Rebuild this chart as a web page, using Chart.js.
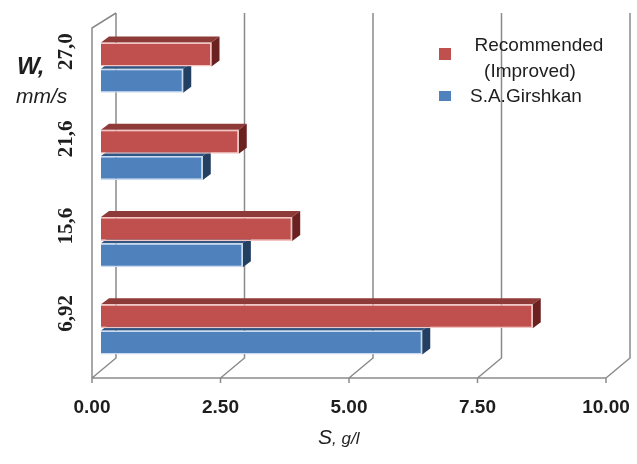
<!DOCTYPE html>
<html>
<head>
<meta charset="utf-8">
<script src="https://cdn.jsdelivr.net/npm/chart.js"></script>
<style>
  html, body { margin: 0; padding: 0; background: #fff; }
  #wrap { width: 637px; height: 464px; }
</style>
</head>
<body>
<div id="wrap"><canvas id="c" width="637" height="464"></canvas></div>
<script>
// W, mm/s categories (bottom to top) and S, g/l values
const categories = ['6,92', '15,6', '21,6', '27,0']
const recommended = [8.40, 3.72, 2.68, 2.15]
const girshkan = [6.25, 2.76, 1.98, 1.60]
const xTicks = [0, 2.5, 5, 7.5, 10]
const seriesNames = [['Recommended', '(Improved)'], ['S.A.Girshkan']]

const colors = {
  red: '#c0504d', redTop: '#8e3a38', redSide: '#6b2120', redEdge: '#f4c4c2',
  blue: '#4f81bd', blueTop: '#2f5684', blueSide: '#233f62', blueEdge: '#c9dbf0',
  grid: '#8a8a8a', text: '#1e1e1e'
}

// depth of the 3d box and of the bars
const FRONT = -9, BACK = 15, LIFT = 20
const BAR_DX = 8, BAR_DY = -6

const box3d = {
  id: 'box3d',
  beforeDatasetsDraw(chart) {
    const { ctx, chartArea: a, scales: { x } } = chart
    const yFront = a.bottom + 5, yBack = yFront - LIFT, yTop = a.top - 11
    ctx.save()
    ctx.strokeStyle = colors.grid
    ctx.lineWidth = 1.5
    ctx.beginPath()
    xTicks.forEach(v => {
      const p = x.getPixelForValue(v)
      ctx.moveTo(p + BACK, yTop); ctx.lineTo(p + BACK, yBack)
      ctx.lineTo(p + FRONT, yFront); ctx.lineTo(p + FRONT, yFront + 5)
    })
    const p0 = x.getPixelForValue(0), p1 = x.getPixelForValue(10)
    ctx.moveTo(p0 + FRONT, yFront); ctx.lineTo(p1 + FRONT, yFront)
    // side wall
    ctx.moveTo(p0 + FRONT, yFront); ctx.lineTo(p0 + FRONT, yTop + 15)
    ctx.lineTo(p0 + BACK, yTop)
    ctx.stroke()

    // bar depth faces, blue first so red front sits over it
    ;[1, 0].forEach(di => {
      const meta = chart.getDatasetMeta(di)
      const top = di === 0 ? colors.redTop : colors.blueTop
      const side = di === 0 ? colors.redSide : colors.blueSide
      meta.data.forEach(bar => {
        const { x: r, y, base: l, height: h } = bar.getProps(['x', 'y', 'base', 'height'], true)
        const t = y - h / 2, b = y + h / 2
        ctx.fillStyle = top
        ctx.beginPath()
        ctx.moveTo(l, t); ctx.lineTo(l + BAR_DX, t + BAR_DY)
        ctx.lineTo(r + BAR_DX, t + BAR_DY); ctx.lineTo(r, t)
        ctx.closePath(); ctx.fill()
        ctx.fillStyle = side
        ctx.beginPath()
        ctx.moveTo(r, t); ctx.lineTo(r + BAR_DX, t + BAR_DY)
        ctx.lineTo(r + BAR_DX, b + BAR_DY); ctx.lineTo(r, b)
        ctx.closePath(); ctx.fill()
      })
    })
    ctx.restore()
  },
  afterDraw(chart) {
    const { ctx, scales: { y } } = chart
    ctx.save()
    ctx.fillStyle = colors.text
    // category labels, rotated
    ctx.font = 'bold 21px "Liberation Serif", serif'
    ctx.textAlign = 'center'
    ctx.textBaseline = 'middle'
    categories.forEach((c, i) => {
      ctx.save()
      ctx.translate(67, y.getPixelForValue(i) - 16)
      ctx.rotate(-Math.PI / 2)
      ctx.fillText(c, 0, 0)
      ctx.restore()
    })
    // axis titles
    ctx.textAlign = 'left'
    ctx.textBaseline = 'alphabetic'
    ctx.font = 'italic bold 24px "Liberation Sans", Arial, sans-serif'
    ctx.fillText('W,', 17, 74)
    ctx.font = 'italic 21px "Liberation Sans", Arial, sans-serif'
    ctx.fillText('mm/s', 16, 103)
    ctx.font = 'italic 21px "Liberation Sans", Arial, sans-serif'
    ctx.fillText('S', 318, 444)
    const sw = ctx.measureText('S').width
    ctx.font = 'italic 17px "Liberation Sans", Arial, sans-serif'
    ctx.fillText(', g/l', 318 + sw, 444)
    // legend
    const ds = chart.data.datasets
    ctx.font = '19px "Liberation Sans", Arial, sans-serif'
    ctx.textBaseline = 'middle'
    ctx.fillStyle = ds[0].backgroundColor
    ctx.fillRect(439, 48, 12, 12)
    ctx.fillStyle = ds[1].backgroundColor
    ctx.fillRect(439, 91, 12, 10)
    ctx.fillStyle = colors.text
    ctx.textAlign = 'center'
    ctx.fillText(seriesNames[0][0], 539, 46)
    ctx.fillText(seriesNames[0][1], 530, 72)
    ctx.textAlign = 'left'
    ctx.fillText(seriesNames[1][0], 470, 97)
    ctx.restore()
  }
}

new Chart(document.getElementById('c'), {
  type: 'bar',
  data: {
    labels: categories,
    datasets: [
      { label: seriesNames[0].join(' '), data: recommended, backgroundColor: colors.red,
        borderColor: colors.redEdge, borderWidth: 1.5, borderSkipped: 'start' },
      { label: seriesNames[1][0], data: girshkan, backgroundColor: colors.blue,
        borderColor: colors.blueEdge, borderWidth: 1.5, borderSkipped: 'start' }
    ]
  },
  options: {
    indexAxis: 'y',
    responsive: false,
    animation: false,
    categoryPercentage: 0.6,
    barPercentage: 0.92,
    layout: { padding: { left: 101, right: 22, top: 24, bottom: 45 } },
    plugins: { legend: { display: false }, tooltip: { enabled: false } },
    scales: {
      x: {
        min: 0, max: 10,
        afterBuildTicks: s => { s.ticks = xTicks.map(v => ({ value: v })) },
        afterFit: s => { s.height = 46; s.paddingLeft = 0; s.paddingRight = 0 },
        grid: { display: false, drawTicks: false },
        border: { display: false },
        ticks: {
          padding: 23, labelOffset: FRONT, color: colors.text,
          font: { family: '"Liberation Sans", Arial, sans-serif', size: 19, weight: 'bold' },
          callback: v => Number(v).toFixed(2)
        }
      },
      y: { display: false, reverse: true }
    }
  },
  plugins: [box3d]
})
</script>
</body>
</html>
